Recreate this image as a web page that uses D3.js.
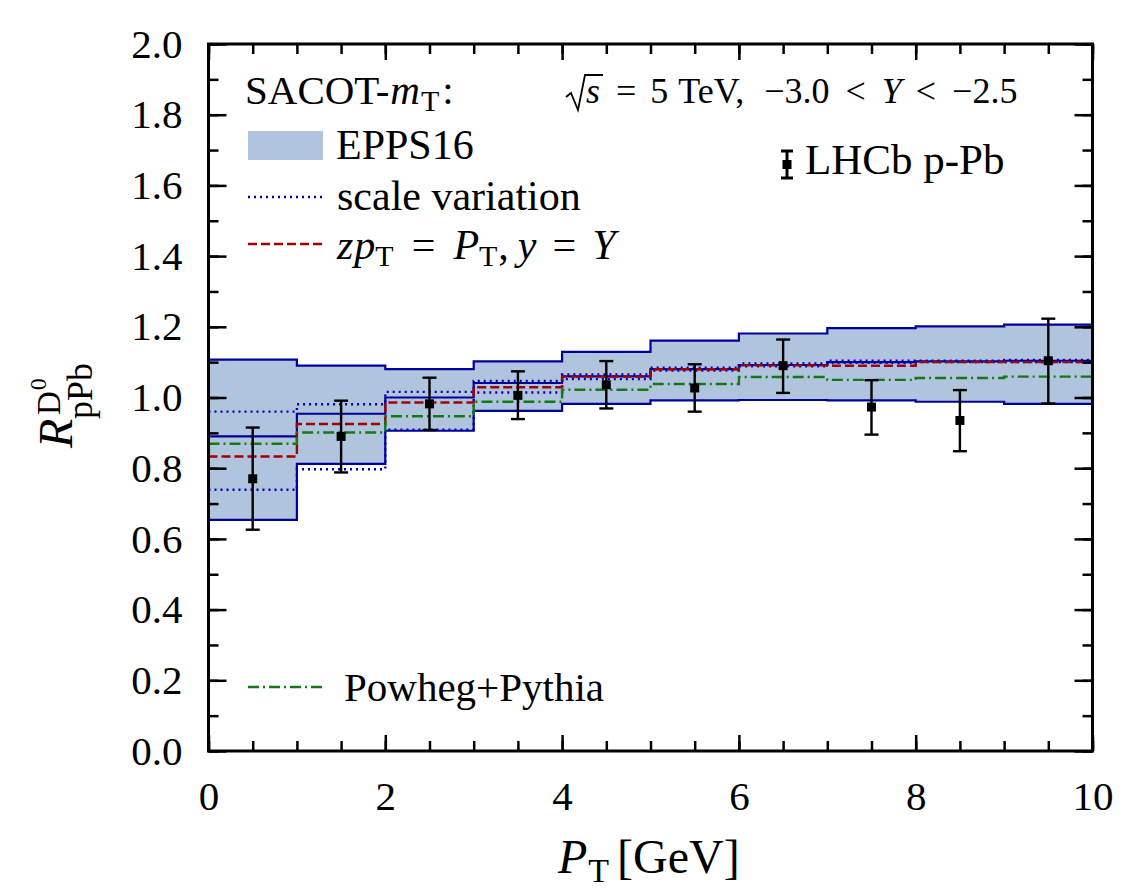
<!DOCTYPE html>
<html>
<head>
<meta charset="utf-8">
<script src="https://cdn.jsdelivr.net/npm/d3@7"></script>
<style>
  body { margin: 0; background: #fff; }
  text { font-family: "Liberation Serif", Tinos, "Times New Roman", "DejaVu Serif", serif; fill: #000; }
</style>
</head>
<body>
<svg id="chart" width="1127" height="891"></svg>
<script>
// Bin edges in P_T (GeV) and per-bin values
var binEdges = [0, 1, 2, 3, 4, 5, 6, 7, 8, 9, 10];
var eppsUpper = [1.107, 1.090, 1.080, 1.102, 1.129, 1.161, 1.181, 1.196, 1.201, 1.206];
var eppsLower = [0.654, 0.812, 0.906, 0.962, 0.982, 0.992, 0.993, 0.992, 0.988, 0.982];
var eppsCentral = [0.890, 0.954, 1.000, 1.041, 1.060, 1.080, 1.092, 1.100, 1.102, 1.104];
var scaleUpper = [0.960, 0.981, 1.016, 1.047, 1.065, 1.084, 1.096, 1.104, 1.104, 1.106];
var scaleLower = [0.739, 0.797, 0.909, 1.014, 1.052, 1.076, 1.088, 1.098, 1.100, 1.100];
var zptLine = [0.833, 0.925, 0.986, 1.029, 1.059, 1.080, 1.091, 1.090, 1.100, 1.100];
var powhegLine = [0.869, 0.901, 0.947, 0.988, 1.022, 1.038, 1.058, 1.050, 1.055, 1.059];

// LHCb data points
var dataX = [0.5, 1.5, 2.5, 3.5, 4.5, 5.5, 6.5, 7.5, 8.5, 9.5];
var dataY = [0.770, 0.890, 0.982, 1.006, 1.036, 1.027, 1.090, 0.973, 0.935, 1.104];
var dataHi = [0.915, 0.991, 1.056, 1.074, 1.103, 1.094, 1.164, 1.049, 1.021, 1.223];
var dataLo = [0.626, 0.788, 0.908, 0.939, 0.969, 0.960, 1.013, 0.895, 0.848, 0.983];

var xTicks = [0, 2, 4, 6, 8, 10];
var yTicks = [0.0, 0.2, 0.4, 0.6, 0.8, 1.0, 1.2, 1.4, 1.6, 1.8, 2.0];

var serif = "'Liberation Serif', Tinos, 'Times New Roman', 'DejaVu Serif', serif";

var svg = d3.select("#chart");

var x = d3.scaleLinear().domain([0, 10]).range([208.5, 1092.5]);
var y = d3.scaleLinear().domain([0, 2]).range([751, 44]);

var navy = "#00009a", blue = "#0000b4", red = "#a00000", green = "#137a13", band = "#b0c4de";

// turn per-bin values into step points (last value repeated at the right edge)
function steps(vals) {
  return binEdges.map(function(e, i) { return [e, vals[Math.min(i, vals.length - 1)]]; });
}

var stepLine = d3.line()
  .x(function(d) { return x(d[0]); })
  .y(function(d) { return y(d[1]); })
  .curve(d3.curveStepAfter);

var stepArea = d3.area()
  .x(function(d) { return x(d[0]); })
  .y0(function(d) { return y(d[2]); })
  .y1(function(d) { return y(d[1]); })
  .curve(d3.curveStepAfter);

var plot = svg.append("g").attr("class", "plot");

// EPPS16 band
var bandPts = binEdges.map(function(e, i) {
  var k = Math.min(i, eppsUpper.length - 1);
  return [e, eppsUpper[k], eppsLower[k]];
});
plot.append("path")
  .attr("d", stepArea(bandPts))
  .style("fill", band)
  .style("stroke", "none");

[eppsUpper, eppsLower, eppsCentral].forEach(function(v) {
  plot.append("path")
    .attr("d", stepLine(steps(v)))
    .style("fill", "none")
    .style("stroke", navy)
    .style("stroke-width", 2.2);
});

// scale variation
[scaleUpper, scaleLower].forEach(function(v) {
  plot.append("path")
    .attr("d", stepLine(steps(v)))
    .style("fill", "none")
    .style("stroke", blue)
    .style("stroke-width", 2.4)
    .style("stroke-dasharray", "2,4");
});

// z pT = PT line
plot.append("path")
  .attr("d", stepLine(steps(zptLine)))
  .style("fill", "none")
  .style("stroke", red)
  .style("stroke-width", 2.4)
  .style("stroke-dasharray", "9,4");

// Powheg+Pythia
plot.append("path")
  .attr("d", stepLine(steps(powhegLine)))
  .style("fill", "none")
  .style("stroke", green)
  .style("stroke-width", 2.4)
  .style("stroke-dasharray", "11,4,2,4");

// data points with error bars
var pts = plot.selectAll("g.pt")
  .data(dataX.map(function(d, i) { return { x: d, y: dataY[i], hi: dataHi[i], lo: dataLo[i] }; }))
  .enter().append("g")
  .attr("class", "pt");

pts.append("line")
  .attr("x1", function(d) { return x(d.x); })
  .attr("x2", function(d) { return x(d.x); })
  .attr("y1", function(d) { return y(d.hi); })
  .attr("y2", function(d) { return y(d.lo); })
  .style("stroke", "#000").style("stroke-width", 2.4);
["hi", "lo"].forEach(function(k) {
  pts.append("line")
    .attr("x1", function(d) { return x(d.x) - 7; })
    .attr("x2", function(d) { return x(d.x) + 7; })
    .attr("y1", function(d) { return y(d[k]); })
    .attr("y2", function(d) { return y(d[k]); })
    .style("stroke", "#000").style("stroke-width", 2.4);
});
pts.append("rect")
  .attr("x", function(d) { return x(d.x) - 4.5; })
  .attr("y", function(d) { return y(d.y) - 4.5; })
  .attr("width", 9).attr("height", 9)
  .style("fill", "#000");

// Axes (inward ticks on all four sides)
var axes = svg.append("g").attr("class", "axes");
var xMinor = d3.range(0, 10.01, 0.5), yMinor = d3.range(0, 2.001, 0.1);

function styleAxis(g) {
  g.attr("font-family", null);
  g.select(".domain").remove();
  g.selectAll(".tick line").style("stroke", "#000").style("stroke-width", 2.5);
  g.selectAll(".tick text").style("font-family", serif).style("font-size", "41px").style("fill", "#000");
}

axes.append("g").attr("transform", "translate(0,751)")
  .call(d3.axisBottom(x).tickValues(xMinor).tickSize(-10).tickFormat("")).call(styleAxis);
axes.append("g").attr("transform", "translate(0,751)")
  .call(d3.axisBottom(x).tickValues(xTicks).tickSize(-16).tickPadding(30).tickFormat(d3.format("d"))).call(styleAxis);
axes.append("g").attr("transform", "translate(0,44)")
  .call(d3.axisTop(x).tickValues(xMinor).tickSize(-10).tickFormat("")).call(styleAxis);
axes.append("g").attr("transform", "translate(0,44)")
  .call(d3.axisTop(x).tickValues(xTicks).tickSize(-16).tickFormat("")).call(styleAxis);

axes.append("g").attr("transform", "translate(208.5,0)")
  .call(d3.axisLeft(y).tickValues(yMinor).tickSize(-10).tickFormat("")).call(styleAxis);
axes.append("g").attr("transform", "translate(208.5,0)")
  .call(d3.axisLeft(y).tickValues(yTicks).tickSize(-18).tickPadding(26).tickFormat(d3.format(".1f"))).call(styleAxis);
axes.append("g").attr("transform", "translate(1092.5,0)")
  .call(d3.axisRight(y).tickValues(yMinor).tickSize(-10).tickFormat("")).call(styleAxis);
axes.append("g").attr("transform", "translate(1092.5,0)")
  .call(d3.axisRight(y).tickValues(yTicks).tickSize(-18).tickFormat("")).call(styleAxis);

axes.append("rect")
  .attr("x", 208.5).attr("y", 44)
  .attr("width", 1092.5 - 208.5).attr("height", 751 - 44)
  .style("fill", "none").style("stroke", "#000").style("stroke-width", 3);

// draw a run of text pieces one after another, returns end x
function rich(g, x0, y0, runs, size) {
  var cx = x0;
  runs.forEach(function(r) {
    cx += r.pre || 0;
    var t = g.append("text")
      .attr("x", cx)
      .attr("y", y0 + (r.dy || 0))
      .style("font-family", serif)
      .style("font-size", (r.sz || size) + "px")
      .style("font-style", r.it ? "italic" : "normal")
      .text(r.t);
    r.x0 = cx;
    cx += t.node().getComputedTextLength();
    r.x1 = cx;
  });
  return cx;
}

var leg = svg.append("g").attr("class", "legend");

rich(leg, 245, 104, [
  { t: "SACOT-" }, { t: "m", it: true, pre: 1 }, { t: "T", sz: 30, dy: 7, pre: 1 }, { t: ":", pre: 3 }
], 41);

leg.append("rect").attr("x", 248).attr("y", 131).attr("width", 75).attr("height", 29).style("fill", band);
rich(leg, 336, 159, [{ t: "EPPS16" }], 42);

leg.append("line").attr("x1", 248).attr("x2", 323).attr("y1", 197).attr("y2", 197)
  .style("stroke", blue).style("stroke-width", 2.4).style("stroke-dasharray", "2,4");
rich(leg, 337, 210, [{ t: "scale variation" }], 42);

leg.append("line").attr("x1", 248).attr("x2", 323).attr("y1", 244).attr("y2", 244)
  .style("stroke", red).style("stroke-width", 2.4).style("stroke-dasharray", "9,4");
rich(leg, 337, 259, [
  { t: "z", it: true }, { t: "p", it: true, pre: 1 }, { t: "T", sz: 30, dy: 7 },
  { t: "=", pre: 18 }, { t: "P", it: true, pre: 18 }, { t: "T", sz: 30, dy: 7 },
  { t: ",", pre: 1 }, { t: "y", it: true, pre: 9 }, { t: "=", pre: 16 }, { t: "Y", it: true, pre: 16 }
], 42);

leg.append("line").attr("x1", 248).attr("x2", 323).attr("y1", 687).attr("y2", 687)
  .style("stroke", green).style("stroke-width", 2.4).style("stroke-dasharray", "11,4,2,4");
rich(leg, 344, 701, [{ t: "Powheg+Pythia" }], 41);

// LHCb legend marker
leg.append("line").attr("x1", 787).attr("x2", 787).attr("y1", 151).attr("y2", 178)
  .style("stroke", "#000").style("stroke-width", 3);
[151, 178].forEach(function(v) {
  leg.append("line").attr("x1", 781).attr("x2", 793).attr("y1", v).attr("y2", v)
    .style("stroke", "#000").style("stroke-width", 3);
});
leg.append("rect").attr("x", 782.5).attr("y", 160).attr("width", 9).attr("height", 9).style("fill", "#000");
rich(leg, 805, 174, [{ t: "LHCb p-Pb" }], 43);

// sqrt(s) label
var kin = svg.append("g").attr("class", "kin");
var sEnd = rich(kin, 586, 103, [{ t: "s", it: true }], 36);
kin.append("path")
  .attr("d", "M566,97 L571,93 L578,110 L585,75 L" + (sEnd + 3) + ",75")
  .style("fill", "none").style("stroke", "#000").style("stroke-width", 1.8);
rich(kin, sEnd + 16, 103, [
  { t: "=" }, { t: "5", pre: 14 }, { t: "TeV,", pre: 10 }, { t: "\u22123.0", pre: 20 },
  { t: "<", pre: 16 }, { t: "Y", it: true, pre: 16 }, { t: "<", pre: 14 }, { t: "\u22122.5", pre: 16 }
], 36);

// Axis titles
rich(svg, 558, 873, [
  { t: "P", it: true, sz: 48 }, { t: "T", sz: 34, dy: 9, pre: 1 }, { t: "[GeV]", sz: 48, pre: 8 }
], 48);

var yt = svg.append("g").attr("transform", "translate(72,448) rotate(-90)");
rich(yt, 0, 0, [{ t: "R", it: true }], 48);
rich(yt, 33, -12, [{ t: "D", sz: 33 }, { t: "0", sz: 24, dy: -14, pre: 1 }], 33);
rich(yt, 29, 20, [{ t: "pPb", sz: 36 }], 36);
</script>
</body>
</html>
